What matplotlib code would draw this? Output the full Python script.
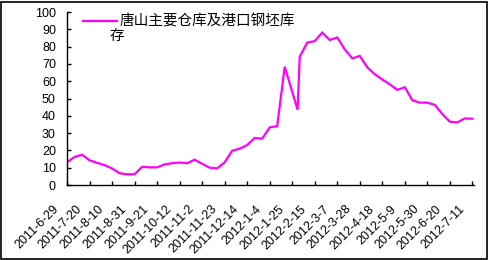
import matplotlib
matplotlib.use("Agg")
import matplotlib.pyplot as plt
import matplotlib.dates as mdates
import matplotlib.transforms as mtransforms
import pandas as pd

plt.rcParams['font.family'] = ['Liberation Sans', 'DejaVu Sans']

series_name = "唐山主要仓库及港口钢坯库"
series_name_wrap = "存"

# weekly observation dates (one irregular point around the Spring Festival)
dates = list(pd.date_range("2011-06-29", periods=55, freq="7D"))
dates[30] = pd.Timestamp("2012-01-30")

values = [13.1, 16.2, 17.5, 14.3, 12.8, 11.5, 9.6, 6.8, 6.2, 6.2,
          10.5, 10.2, 10.2, 11.9, 12.6, 13.0, 12.6, 14.6, 12.3, 10.0,
          9.6, 13.1, 19.8, 21.0, 23.1, 27.2, 26.8, 33.3, 34.0, 68.4,
          43.5, 74.2, 82.3, 83.2, 88.1, 83.8, 85.3, 78.4, 73.2, 74.6,
          68.0, 64.0, 61.0, 58.2, 55.0, 56.5, 49.0, 47.6, 47.6, 46.3,
          41.0, 36.6, 36.2, 38.5, 38.3]

tick_dates = list(pd.date_range("2011-06-29", "2012-07-11", freq="21D"))
tick_labels = [f"{d.year}-{d.month}-{d.day}" for d in tick_dates]
y_ticks = list(range(0, 101, 10))

fig = plt.figure(figsize=(4.89, 2.60), dpi=100)
ax = fig.add_axes([67/489, 1-185/260, (474-67)/489, (185-12)/260])

ax.plot(dates, values, color="#FF00FF", lw=1.6, solid_joinstyle="miter")

ax.set_ylim(0, 100)
ax.set_yticks(y_ticks)
ax.set_xlim(tick_dates[0], tick_dates[-1] + pd.Timedelta(days=1.5))
ax.set_xticks(tick_dates)
ax.set_xticklabels(tick_labels)

for s in ("top", "right"):
    ax.spines[s].set_visible(False)
for s in ("left", "bottom"):
    ax.spines[s].set_linewidth(1.0)
    ax.spines[s].set_color("black")

ax.tick_params(axis="y", direction="in", length=3, width=1, labelsize=9, pad=8)
ax.tick_params(axis="x", direction="in", length=3, width=1, labelsize=9, pad=16)

offset = mtransforms.ScaledTranslation(-10/100, 0, fig.dpi_scale_trans)
for lab in ax.get_xticklabels():
    lab.set_rotation(45)
    lab.set_ha("right")
    lab.set_va("center")
    lab.set_rotation_mode("anchor")
    lab.set_transform(lab.get_transform() + offset)

cjk = ['Noto Sans CJK SC', 'DejaVu Sans']
leg = ax.legend([ax.lines[0]], [series_name], loc="upper left",
                bbox_to_anchor=(0.025, 1.02), frameon=False,
                prop={'family': cjk, 'size': 10.5},
                handlelength=2.3, handletextpad=0.2, borderaxespad=0)
fig.text(110/489, 1-36/260, series_name_wrap, family=cjk, fontsize=10.5,
         ha="left", va="center")

# outer border
fig.patches.append(plt.Rectangle((0.002, 0.004), 0.994, 0.99, transform=fig.transFigure,
                                 fill=False, edgecolor="black", lw=1.2))

fig.savefig("out.png", dpi=100)
